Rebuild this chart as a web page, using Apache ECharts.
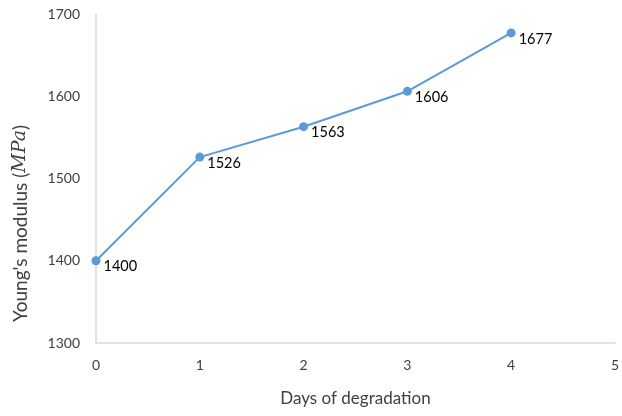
<!DOCTYPE html>
<html>
<head>
<meta charset="utf-8">
<script src="https://cdn.jsdelivr.net/npm/echarts@6/dist/echarts.min.js"></script>
<style>
  html, body { margin: 0; padding: 0; background: #fff; }
  #chart { width: 622px; height: 416px; }
</style>
</head>
<body>
<div id="chart"></div>
<script>
// Young's modulus measured over days of degradation
const days = [0, 1, 2, 3, 4];
const modulus = [1400, 1526, 1563, 1606, 1677];

const xTicks = { min: 0, max: 5, interval: 1 };
const yTicks = { min: 1300, max: 1700, interval: 100 };

const FONT = 'Lato, "Open Sans", sans-serif';
const TEXT = '#404040';
const AXIS = '#d9d9d9';
const BLUE = '#5b9bd5';

const chart = echarts.init(document.getElementById('chart'), null, { renderer: 'canvas' });

chart.setOption({
  animation: false,
  grid: { left: 96, right: 5, top: 14, bottom: 73, containLabel: false },
  xAxis: {
    type: 'value',
    min: xTicks.min, max: xTicks.max, interval: xTicks.interval,
    name: 'Days of degradation',
    nameLocation: 'middle',
    nameGap: 47,
    nameTextStyle: { fontFamily: FONT, fontSize: 17, color: TEXT },
    axisLine: { show: true, lineStyle: { color: AXIS, width: 1.5 } },
    axisTick: { show: false },
    splitLine: { show: false },
    axisLabel: { fontFamily: FONT, fontSize: 14, color: TEXT, margin: 15, formatter: v => String(v) }
  },
  yAxis: {
    type: 'value',
    min: yTicks.min, max: yTicks.max, interval: yTicks.interval,
    name: "{n|Young's modulus (}{i|MPa}{n|)}",
    nameLocation: 'middle',
    nameGap: 66,
    nameTextStyle: {
      padding: [0, 90, 0, 0],
      rich: {
        n: { fontFamily: FONT, fontSize: 19, color: TEXT },
        i: { fontFamily: '"DejaVu Serif", "Liberation Serif", serif', fontStyle: 'italic', fontSize: 19, color: TEXT }
      }
    },
    axisLine: { show: true, lineStyle: { color: AXIS, width: 1.5 } },
    axisTick: { show: false },
    splitLine: { show: false },
    axisLabel: { fontFamily: FONT, fontSize: 14, color: TEXT, margin: 16, formatter: v => String(v) }
  },
  series: [{
    type: 'line',
    data: days.map((d, i) => [d, modulus[i]]),
    symbol: 'circle',
    symbolSize: 9,
    lineStyle: { color: BLUE, width: 2 },
    itemStyle: { color: BLUE },
    label: {
      show: true,
      position: 'right',
      offset: [-2, 6],
      fontFamily: FONT,
      fontSize: 14.5,
      color: '#000',
      formatter: p => p.value[1]
    }
  }]
});
</script>
</body>
</html>
